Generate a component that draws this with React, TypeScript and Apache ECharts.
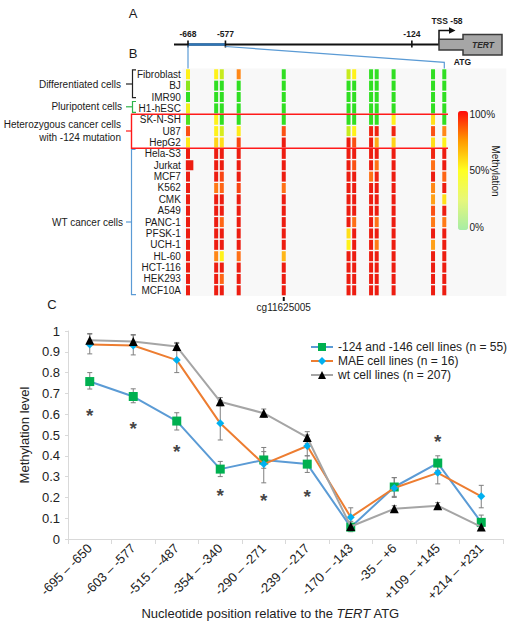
import React, { useEffect, useRef } from 'react';
import * as echarts from 'echarts';

const FONT = '"Liberation Sans", Arial, sans-serif';

// ---------- Panel A / B data ----------
const geneTicks = [-668, -577, -124];
const tssPosition = -58;
const cpgPositions = [-668, -658, -656, -650, -634, -611, -609, -603, -601, -595, -581, -577];
const probeCpgIndex = 4; // cg11625005
const cellLines = [
  'Fibroblast', 'BJ', 'IMR90', 'H1-hESC', 'SK-N-SH', 'U87', 'HepG2', 'Hela-S3', 'Jurkat', 'MCF7',
  'K562', 'CMK', 'A549', 'PANC-1', 'PFSK-1', 'UCH-1', 'HL-60', 'HCT-116', 'HEK293', 'MCF10A',
];
// methylation % per cell line (rows) per CpG (columns)
const methylation = [
  [50, 50, 35, 75, 8, 35, 50, 8, 8, 8, 8, 8],
  [25, 8, 8, 8, 8, 8, 8, 8, 8, 8, 8, 8],
  [8, 8, 8, 8, 8, 8, 8, 8, 8, 8, 8, 8],
  [45, 8, 8, 8, 8, 8, 8, 8, 8, 8, 8, 8],
  [15, 50, 8, 8, 8, 8, 8, 8, 8, 50, 55, 8],
  [86, 50, 38, 52, 86, 35, 50, 95, 95, 95, 86, 75],
  [52, 58, 55, 88, 97, 97, 86, 97, 68, 58, 55, 50],
  [97, 97, 97, 97, 97, 97, 97, 97, 97, 97, 95, 97],
  [97, 97, 97, 97, 97, 97, 86, 97, 80, 97, 80, 97],
  [97, 97, 88, 97, 97, 97, 97, 80, 95, 97, 97, 82],
  [97, 78, 82, 88, 80, 97, 97, 97, 97, 97, 75, 97],
  [97, 97, 97, 97, 97, 97, 97, 97, 97, 97, 70, 55],
  [97, 97, 97, 97, 97, 97, 97, 97, 97, 97, 86, 97],
  [97, 97, 82, 97, 97, 97, 80, 97, 80, 97, 78, 78],
  [97, 97, 97, 97, 97, 55, 97, 97, 97, 97, 97, 97],
  [97, 97, 97, 97, 97, 50, 97, 97, 78, 97, 70, 97],
  [97, 75, 50, 80, 65, 97, 97, 97, 97, 97, 97, 97],
  [97, 97, 97, 97, 97, 97, 97, 97, 97, 97, 97, 97],
  [97, 97, 82, 97, 97, 97, 97, 97, 97, 97, 97, 97],
  [97, 97, 97, 97, 97, 97, 97, 97, 97, 97, 97, 97],
];
const wideCells = [[8, 0]]; // Jurkat, first CpG
const colorbarLabels = ['100%', '50%', '0%'];

// ---------- Panel C data ----------
const regions = [
  '-695 – -650', '-603 – -577', '-515 – -487', '-354 – -340', '-290 – -271',
  '-239 – -217', '-170 – -143', '-35 – +6', '+109 – +145', '+214 – +231',
];
const seriesNames = ['-124 and -146 cell lines (n = 55)', 'MAE cell lines (n = 16)', 'wt cell lines (n = 207)'];
const mutantMean = [0.757, 0.685, 0.567, 0.336, 0.38, 0.36, 0.057, 0.25, 0.365, 0.08];
const mutantHigh = [0.8, 0.722, 0.607, 0.373, 0.42, 0.4, 0.085, 0.295, 0.4, 0.115];
const mutantLow = [0.721, 0.655, 0.524, 0.3, 0.34, 0.32, 0.035, 0.205, 0.33, 0.05];
const maeMean = [0.935, 0.93, 0.86, 0.556, 0.36, 0.447, 0.105, 0.245, 0.318, 0.205];
const maeHigh = [0.988, 0.983, 0.94, 0.665, 0.44, 0.5, 0.15, 0.295, 0.37, 0.258];
const maeLow = [0.89, 0.885, 0.8, 0.476, 0.27, 0.4, 0.06, 0.2, 0.265, 0.15];
const wtMean = [0.955, 0.95, 0.925, 0.66, 0.605, 0.488, 0.06, 0.145, 0.16, 0.058];
const wtHigh = [0.985, 0.98, 0.945, 0.68, 0.625, 0.516, 0.075, 0.16, 0.175, 0.07];
const wtLow = [0.93, 0.925, 0.905, 0.64, 0.585, 0.46, 0.045, 0.13, 0.145, 0.045];
const starRegions = [0, 1, 2, 3, 4, 5, 8];
const starLevels = [0.62, 0.555, 0.445, 0.232, 0.208, 0.228, 0.495];

// ---------- layout helpers ----------
const HEAT_LEFT_BP = -670;
const HEAT_RIGHT_BP = -555;
const HEAT_PX_PER_BP = 2.8165;
const HEAT_ORIGIN = 188;
const heatX = (bp: number) => HEAT_ORIGIN + (bp - cpgPositions[0]) * HEAT_PX_PER_BP;
const geneX = (bp: number) => 188 + (bp + 668) * 0.4115;
const HEAT_TOP = 68.6;
const HEAT_H = 227.4;

const txt = (x: number, y: number, text: string, extra: any = {}) => ({
  type: 'text', x, y, silent: true, z: 10,
  style: { text, fontFamily: FONT, fontSize: 10, fill: '#1a1a1a', align: 'left', verticalAlign: 'middle', ...extra },
});
const ln = (x1: number, y1: number, x2: number, y2: number, stroke: string, lineWidth = 1) => ({
  type: 'line', silent: true, z: 10, shape: { x1, y1, x2, y2 }, style: { stroke, lineWidth },
});
const pl = (points: number[][], stroke: string, lineWidth = 1) => ({
  type: 'polyline', silent: true, z: 10, shape: { points }, style: { stroke, lineWidth, fill: 'none' },
});

function buildGraphic() {
  const g: any[] = [];
  g.push(txt(133, 13, 'A', { fontSize: 13, align: 'center' }));
  g.push(txt(133, 53, 'B', { fontSize: 13, align: 'center' }));
  g.push(txt(52, 304, 'C', { fontSize: 13, align: 'center' }));
  // gene line
  const tssX = geneX(tssPosition);
  g.push(ln(174, 44.5, tssX, 44.5, '#111', 2));
  g.push(ln(geneX(-668), 44.5, geneX(-577), 44.5, '#2e75b6', 2.4));
  geneTicks.forEach((t) => {
    g.push(ln(geneX(t), 40.5, geneX(t), 47.5, '#111', 1.6));
    g.push(txt(geneX(t), 34, String(t), { fontSize: 8.5, fontWeight: 'bold', align: 'center' }));
  });
  // TSS arrow
  g.push(pl([[tssX, 44.5], [tssX, 30.5], [450, 30.5]], '#111', 1.5));
  g.push({ type: 'polygon', silent: true, z: 10, shape: { points: [[449, 27.3], [455.5, 30.5], [449, 33.7]] }, style: { fill: '#111' } });
  g.push(txt(447, 20.5, 'TSS ' + tssPosition, { fontSize: 8.5, fontWeight: 'bold', align: 'center' }));
  // TERT gene box
  g.push({
    type: 'polygon', silent: true, z: 10,
    shape: { points: [[tssX, 39.3], [463, 39.3], [463, 34.5], [502, 34.5], [502, 55], [463, 55], [463, 50], [tssX, 50]] },
    style: { fill: '#a6a6a6', stroke: '#3a3a3a', lineWidth: 1.5 },
  });
  g.push(txt(483, 44.5, 'TERT', { fontSize: 8.5, fontWeight: 'bold', fontStyle: 'italic', align: 'center', fill: '#2a2a2a' }));
  g.push(txt(462.5, 62, 'ATG', { fontSize: 8.5, fontWeight: 'bold', align: 'center' }));
  // zoom connectors
  g.push(ln(geneX(-668), 45.5, heatX(-668), HEAT_TOP, '#5b9bd5', 1.2));
  g.push(pl([[geneX(-577), 46.5], [heatX(-577), 62.3], [heatX(-577), HEAT_TOP]], '#5b9bd5', 1.2));
  // brackets and group labels
  g.push(pl([[136, 69.8], [132.5, 69.8], [132.5, 97.6], [136, 97.6]], '#222', 1.2));
  g.push(ln(126, 84, 132.5, 84, '#222', 1.2));
  g.push(txt(121, 84, 'Differentiated cells', { align: 'right' }));
  g.push(pl([[136, 101.5], [132.5, 101.5], [132.5, 112.3], [136, 112.3]], '#2db34a', 1.2));
  g.push(ln(126, 106.8, 132.5, 106.8, '#2db34a', 1.2));
  g.push(txt(122, 106.8, 'Pluripotent cells', { align: 'right' }));
  g.push(pl([[448, 114.3], [131.5, 114.3], [131.5, 148.3], [448, 148.3]], '#ff1a1a', 1.4));
  g.push(ln(126, 131, 131.5, 131, '#ff1a1a', 1.2));
  g.push(txt(121, 124.5, 'Heterozygous cancer cells', { align: 'right' }));
  g.push(txt(121, 137.8, 'with -124 mutation', { align: 'right' }));
  g.push(pl([[135.5, 149.5], [131.5, 149.5], [131.5, 294.6], [136, 294.6]], '#5b9bd5', 1.2));
  g.push(ln(126, 222, 131.5, 222, '#5b9bd5', 1.2));
  g.push(txt(123, 222, 'WT cancer cells', { align: 'right' }));
  // colorbar labels
  const cbTop = 111, cbH = 119;
  colorbarLabels.forEach((l, i) => g.push(txt(469.5, cbTop + 3 + (i * (cbH - 6)) / 2, l, { fontSize: 10 })));
  g.push({ ...txt(495, 171, 'Methylation', { fontSize: 10, align: 'center' }), rotation: -Math.PI / 2 });
  // probe label
  const px = heatX(cpgPositions[probeCpgIndex]);
  g.push({ type: 'rect', silent: true, z: 10, shape: { x: px - 1, y: HEAT_TOP + HEAT_H + 1, width: 2, height: 4 }, style: { fill: '#111' } });
  g.push(txt(px, 307.8, 'cg11625005', { fontSize: 10, align: 'center' }));
  // x-axis title of panel C
  g.push({
    type: 'text', x: 270.5, y: 613, silent: true, z: 10,
    style: {
      text: '{a|Nucleotide position relative to the }{i|TERT}{a| ATG}',
      align: 'center', verticalAlign: 'middle',
      rich: {
        a: { fontFamily: FONT, fontSize: 13, fill: '#222' },
        i: { fontFamily: FONT, fontSize: 13, fill: '#222', fontStyle: 'italic' },
      },
    },
  });
  return g;
}

function errorSeries(high: number[], low: number[]) {
  return {
    type: 'custom', xAxisIndex: 1, yAxisIndex: 1, z: 2, silent: true,
    data: regions.map((_, i) => [i, high[i], low[i]]),
    encode: { x: 0, y: [1, 2] },
    renderItem: (params: any, api: any) => {
      const x = api.value(0);
      const hi = api.coord([x, api.value(1)]);
      const lo = api.coord([x, api.value(2)]);
      const st = { stroke: '#7f7f7f', lineWidth: 1 };
      return {
        type: 'group',
        children: [
          { type: 'line', shape: { x1: hi[0], y1: hi[1], x2: lo[0], y2: lo[1] }, style: st },
          { type: 'line', shape: { x1: hi[0] - 2.5, y1: hi[1], x2: hi[0] + 2.5, y2: hi[1] }, style: st },
          { type: 'line', shape: { x1: lo[0] - 2.5, y1: lo[1], x2: lo[0] + 2.5, y2: lo[1] }, style: st },
        ],
      };
    },
  };
}

function buildOption() {
  const heatData: any[] = [];
  methylation.forEach((row, r) =>
    row.forEach((v, c) => {
      const wide = wideCells.some(([wr, wc]) => wr === r && wc === c);
      heatData.push({
        value: [cpgPositions[c], cellLines[r], v],
        symbolSize: wide ? [7.5, 10] : [4, 10],
        symbolOffset: wide ? [1.6, 0] : [0, 0],
      });
    })
  );

  const lineDefs = [
    { mean: mutantMean, symbol: 'rect', size: 9, mark: '#00b050', line: '#5b9bd5' },
    { mean: maeMean, symbol: 'diamond', size: 8, mark: '#00b0f0', line: '#ed7d31' },
    { mean: wtMean, symbol: 'triangle', size: 9, mark: '#000000', line: '#a5a5a5' },
  ];

  return {
    animation: false,
    textStyle: { fontFamily: FONT },
    grid: [
      {
        left: heatX(HEAT_LEFT_BP), top: HEAT_TOP,
        width: (HEAT_RIGHT_BP - HEAT_LEFT_BP) * HEAT_PX_PER_BP, height: HEAT_H,
        show: true, backgroundColor: '#f8f8f8', borderWidth: 0,
      },
      { left: 68, top: 331, width: 435, height: 208 },
    ],
    xAxis: [
      { gridIndex: 0, type: 'value', min: HEAT_LEFT_BP, max: HEAT_RIGHT_BP, show: false },
      {
        gridIndex: 1, type: 'category', data: regions,
        axisLine: { lineStyle: { color: '#d9d9d9', width: 1 } },
        axisTick: { show: true, length: 5, lineStyle: { color: '#d9d9d9' } },
        axisLabel: { rotate: 45, interval: 0, fontSize: 13, color: '#222', margin: 7, fontFamily: FONT },
      },
    ],
    yAxis: [
      {
        gridIndex: 0, type: 'category', data: cellLines, inverse: true,
        axisLine: { show: false }, axisTick: { show: false },
        axisLabel: { interval: 0, fontSize: 10, color: '#1a1a1a', margin: 1.5, fontFamily: FONT },
      },
      {
        gridIndex: 1, type: 'value', min: 0, max: 1, interval: 0.1,
        name: 'Methylation level', nameLocation: 'middle', nameGap: 31,
        nameTextStyle: { fontSize: 13, color: '#222', fontFamily: FONT },
        axisLine: { show: true, lineStyle: { color: '#d9d9d9' } },
        axisTick: { show: true, length: 3, lineStyle: { color: '#d9d9d9' } },
        splitLine: { show: false },
        axisLabel: {
          fontSize: 13, color: '#222', margin: 8, fontFamily: FONT,
          formatter: (v: number) => String(Math.round(v * 10) / 10),
        },
      },
    ],
    visualMap: [
      {
        type: 'continuous', seriesIndex: 0, dimension: 2, min: 0, max: 100, show: false,
        inRange: { color: ['#22dd22', '#33e022', '#66e41e', '#aee81e', '#e0ee1e', '#fff21a', '#ffcc18', '#ffa018', '#ff7016', '#f83a12', '#e81010'] },
      },
      {
        type: 'continuous', seriesIndex: 1, min: 0, max: 100, show: true, calculable: false,
        left: 458, top: 111, itemWidth: 10, itemHeight: 119, padding: 0, hoverLink: false,
        inRange: { color: ['#a6eda6', '#e6f77a', '#ffff22', '#ff9a00', '#ff0a0a'] },
      },
    ],
    legend: {
      data: seriesNames, orient: 'vertical', left: 305, top: 336, itemWidth: 22, itemHeight: 10, itemGap: 2,
      textStyle: { fontSize: 12, color: '#222', fontFamily: FONT },
    },
    graphic: buildGraphic(),
    series: [
      {
        type: 'scatter', xAxisIndex: 0, yAxisIndex: 0, symbol: 'rect', data: heatData, silent: true,
        itemStyle: { opacity: 1 },
      },
      { type: 'scatter', xAxisIndex: 0, yAxisIndex: 0, data: [], silent: true },
      errorSeries(mutantHigh, mutantLow),
      errorSeries(maeHigh, maeLow),
      errorSeries(wtHigh, wtLow),
      ...lineDefs.map((d, i) => ({
        name: seriesNames[i], type: 'line', xAxisIndex: 1, yAxisIndex: 1, z: 3 + i,
        data: d.mean, symbol: d.symbol, symbolSize: d.size, showSymbol: true,
        itemStyle: { color: d.mark, borderWidth: 0 },
        lineStyle: { color: d.line, width: 2 },
      })),
      {
        type: 'scatter', xAxisIndex: 1, yAxisIndex: 1, symbolSize: 0, silent: true, z: 10,
        data: starRegions.map((r, i) => [r, starLevels[i]]),
        label: {
          show: true, position: 'inside', formatter: '*', fontSize: 19, fontWeight: 'bold',
          color: '#111', offset: [0, 5], fontFamily: FONT,
        },
      },
    ],
  };
}

export default function App() {
  const ref = useRef<HTMLDivElement>(null);
  useEffect(() => {
    const chart = echarts.init(ref.current!, null, { renderer: 'svg' });
    chart.setOption(buildOption() as any);
    return () => chart.dispose();
  }, []);
  return <div ref={ref} style={{ position: 'absolute', left: 0, top: 0, width: 512, height: 628 }} />;
}
